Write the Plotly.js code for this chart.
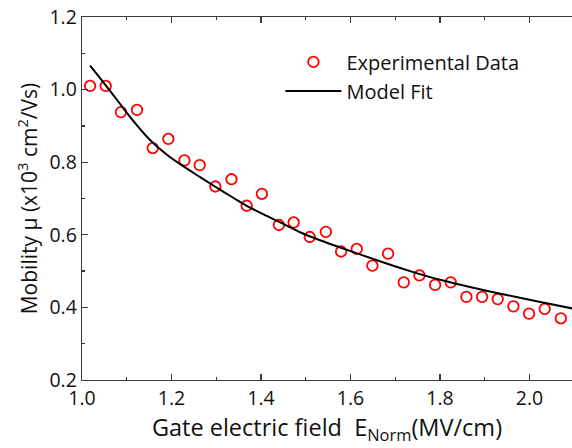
<!DOCTYPE html>
<html><head><meta charset="utf-8">
<script src="https://cdn.plot.ly/plotly-3.0.1.min.js"></script>
<style>html,body{margin:0;padding:0;background:#fff}</style>
</head><body><div id="chart" style="width:572px;height:448px"></div>
<script>
const fieldExp = [1.018, 1.053, 1.087, 1.123, 1.158, 1.193, 1.229, 1.263, 1.298, 1.334,
                  1.368, 1.402, 1.440, 1.473, 1.509, 1.545, 1.579, 1.614, 1.649, 1.684,
                  1.719, 1.754, 1.789, 1.824, 1.859, 1.894, 1.929, 1.964, 1.999, 2.034, 2.070];
const mobilityExp = [1.010, 1.010, 0.938, 0.944, 0.839, 0.864, 0.805, 0.792, 0.733, 0.753,
                     0.680, 0.713, 0.627, 0.634, 0.594, 0.608, 0.554, 0.561, 0.515, 0.548,
                     0.469, 0.488, 0.462, 0.469, 0.429, 0.429, 0.423, 0.403, 0.383, 0.396, 0.370];
// Model fit curve
const fieldFit = [1.018, 1.040, 1.078, 1.115, 1.152, 1.189, 1.226, 1.264, 1.297, 1.338, 1.368,
                  1.413, 1.450, 1.487, 1.532, 1.584, 1.659, 1.733, 1.800, 1.874, 1.949, 2.024, 2.100];
const mobilityFit = [1.066, 1.032, 0.972, 0.913, 0.861, 0.821, 0.789, 0.759, 0.733, 0.702, 0.680,
                     0.652, 0.630, 0.607, 0.585, 0.562, 0.530, 0.500, 0.476, 0.454, 0.434, 0.415, 0.396];
const xTicks = [1.0, 1.2, 1.4, 1.6, 1.8, 2.0];
const xTickText = ['1.0', '1.2', '1.4', '1.6', '1.8', '2.0'];
const yTicks = [0.2, 0.4, 0.6, 0.8, 1.0, 1.2];
const yTickText = ['0.2', '0.4', '0.6', '0.8', '1.0', '1.2'];

const FONT = 'Open Sans, sans-serif';
const AX = '#3a3a3a';
const TXT = '#111111';

const traces = [
  {x: fieldExp, y: mobilityExp, type: 'scatter', mode: 'markers', name: 'Experimental Data',
   legendgroup: 'a',
   marker: {symbol: 'circle-open', size: 10.5, color: '#ff0000', line: {width: 1.8, color: '#ff0000'}}},
  {x: fieldFit, y: mobilityFit, type: 'scatter', mode: 'lines', name: 'Model Fit',
   legendgroup: 'b',
   line: {color: '#000000', width: 2, shape: 'spline', smoothing: 0.8}}
];

const layout = {
  width: 572, height: 448,
  margin: {l: 82, r: 0, t: 17, b: 68, pad: 0},
  paper_bgcolor: '#ffffff', plot_bgcolor: '#ffffff',
  font: {family: FONT, size: 20, color: TXT},
  showlegend: true,
  legend: {x: 0.405, y: 0.93, xanchor: 'left', yanchor: 'top', bgcolor: 'rgba(0,0,0,0)',
           font: {family: FONT, size: 20, color: TXT}, tracegroupgap: 0, itemwidth: 56},
  xaxis: {
    range: [1.0, 2.09497], showgrid: false, zeroline: false,
    showline: true, linecolor: AX, linewidth: 1.3, mirror: 'ticks',
    ticks: 'inside', ticklen: 6, tickwidth: 1.3, tickcolor: AX,
    tickmode: 'array', tickvals: xTicks, ticktext: xTickText,
    minor: {ticks: 'inside', ticklen: 3, tickwidth: 1.3, tickcolor: AX, dtick: 0.1, tick0: 1.0, showgrid: false},
    tickfont: {family: FONT, size: 19.5, color: TXT},
    title: {text: 'Gate electric field\u00a0\u00a0E<sub>Norm</sub>(MV/cm)', font: {family: FONT, size: 23.5, color: TXT}, standoff: 5}
  },
  yaxis: {
    range: [0.2, 1.2], showgrid: false, zeroline: false,
    showline: true, linecolor: AX, linewidth: 1.3, mirror: false,
    ticks: 'inside', ticklen: 6, tickwidth: 1.3, tickcolor: AX,
    tickmode: 'array', tickvals: yTicks, ticktext: yTickText,
    minor: {ticks: 'inside', ticklen: 3, tickwidth: 1.3, tickcolor: AX, dtick: 0.1, tick0: 0.2, showgrid: false},
    tickfont: {family: FONT, size: 19.5, color: TXT},
    title: {text: 'Mobility \u03bc (x10<sup>3</sup> cm<sup>2</sup>/Vs)', font: {family: FONT, size: 21, color: TXT}, standoff: 6}
  }
};

Plotly.newPlot('chart', traces, layout, {displayModeBar: false, staticPlot: true});
</script>
</body></html>
